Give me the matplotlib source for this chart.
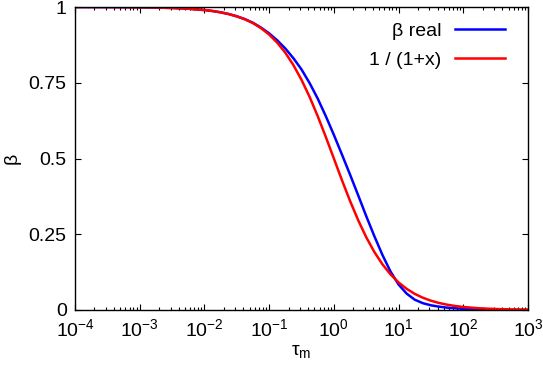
import numpy as np
import matplotlib
matplotlib.use("Agg")
import matplotlib.pyplot as plt
from matplotlib.ticker import LogLocator, NullFormatter, FixedLocator

plt.rcParams['font.family'] = ['Liberation Sans', 'DejaVu Sans']
plt.rcParams['mathtext.fontset'] = 'custom'
plt.rcParams['mathtext.rm'] = 'Liberation Sans'
plt.rcParams['mathtext.it'] = 'Liberation Sans:italic'

# tau: quarter decades at the ends, eighth decades from 1e-2 to 1e2
tau = [1e-4, 1.78e-4, 3.16e-4, 5.62e-4, 1e-3, 1.78e-3, 3.16e-3, 5.62e-3,
       0.01, 0.01334, 0.01778, 0.02371, 0.03162, 0.04217, 0.05623, 0.07499,
       0.1, 0.1334, 0.1778, 0.2371, 0.3162, 0.4217, 0.5623, 0.7499,
       1.0, 1.334, 1.778, 2.371, 3.162, 4.217, 5.623, 7.499,
       10.0, 13.34, 17.78, 23.71, 31.62, 42.17, 56.23, 74.99,
       100.0, 178.0, 316.0, 562.0, 1000.0]

beta_real = [0.9999, 0.9998, 0.9997, 0.9994, 0.999, 0.9982, 0.9968, 0.9944,
             0.990, 0.9868, 0.9825, 0.9768, 0.9693, 0.960, 0.948, 0.932,
             0.913, 0.890, 0.863, 0.831, 0.794, 0.749, 0.698, 0.640,
             0.578, 0.513, 0.447, 0.379, 0.310, 0.244, 0.182, 0.127,
             0.084, 0.054, 0.034, 0.0225, 0.0155, 0.011, 0.0078, 0.0056,
             0.004, 0.0018, 0.0008, 0.0003, 0.0001]

beta_approx = [0.9999, 0.9998, 0.9997, 0.9994, 0.999, 0.9982, 0.9968, 0.9944,
               0.990, 0.9868, 0.9825, 0.9768, 0.9693, 0.9595, 0.9468, 0.9302,
               0.9091, 0.8823, 0.8491, 0.8083, 0.7597, 0.7034, 0.6401, 0.5714,
               0.500, 0.4284, 0.3600, 0.2967, 0.2403, 0.1917, 0.1510, 0.1177,
               0.0909, 0.0698, 0.0532, 0.0405, 0.0307, 0.0232, 0.0175, 0.0132,
               0.0099, 0.0056, 0.0032, 0.0018, 0.001]

yticks = [0, 0.25, 0.5, 0.75, 1]
ylabels = ['0', '0.25', '0.5', '0.75', '1']

fig = plt.figure(figsize=(5.43, 3.69), dpi=100)
ax = fig.add_axes([0.1381, 0.1599, 0.9724 - 0.1381, 0.981 - 0.1599])

ax.plot(tau, beta_real, color='#0000ff', lw=1.8, label='β real')
ax.plot(tau, beta_approx, color='#ff0000', lw=1.8, label='1 / (1+x)')

ax.set_xscale('log')
ax.set_xlim(1e-4, 1e3)
ax.set_ylim(0, 1)
ax.xaxis.set_major_locator(LogLocator(base=10, numticks=20))
ax.xaxis.set_minor_locator(LogLocator(base=10, subs=np.arange(2, 10), numticks=20))
ax.xaxis.set_minor_formatter(NullFormatter())
ax.yaxis.set_major_locator(FixedLocator(yticks))
ax.set_yticklabels(ylabels)

ax.tick_params(which='both', direction='in', top=True, right=True, labelsize=14)
ax.tick_params(which='major', length=4.5, width=0.8, pad=6)
ax.tick_params(which='minor', length=2.3, width=0.8)
for s in ax.spines.values():
    s.set_linewidth(1.0)

ax.set_xlabel(r'τ$_\mathrm{m}$', fontsize=14, labelpad=2)
ax.set_ylabel('β', fontsize=14, labelpad=6)

ax.legend(loc='upper right', bbox_to_anchor=(1 - 7 / 453, 1), frameon=False,
          markerfirst=False, fontsize=14, handlelength=2.6, handletextpad=0.7,
          labelspacing=0.56, borderaxespad=0.5, borderpad=0.3)

fig.savefig('out.png', dpi=100)
